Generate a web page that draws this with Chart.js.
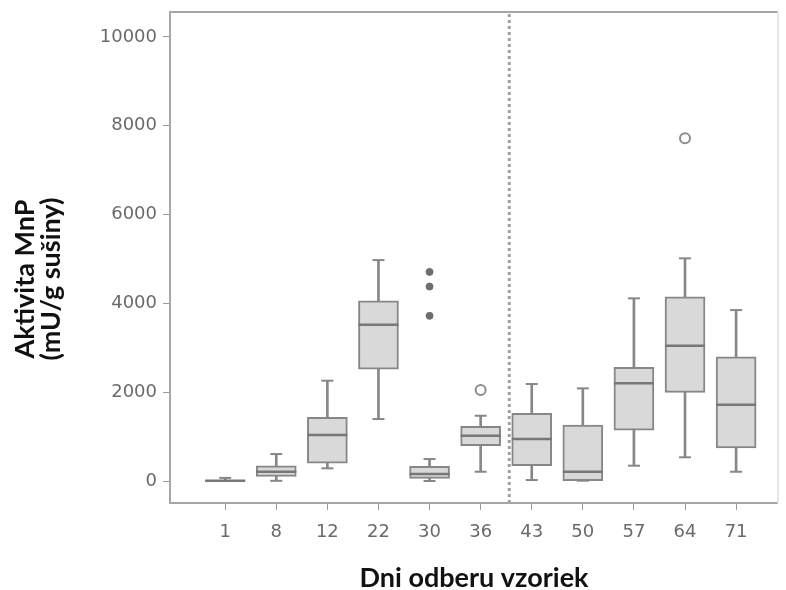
<!DOCTYPE html>
<html>
<head>
<meta charset="utf-8">
<script src="https://cdn.jsdelivr.net/npm/chart.js@4.4.1/dist/chart.umd.min.js"></script>
<style>
  html, body { margin: 0; padding: 0; background: #fff; }
  #wrap { width: 786px; height: 590px; }
</style>
</head>
<body>
<div id="wrap"><canvas id="boxChart" width="786" height="590"></canvas></div>
<script>
// dni odberu vzoriek
const days = ['1', '8', '12', '22', '30', '36', '43', '50', '57', '64', '71'];

// odčítané hodnoty krabicových grafov (mU/g sušiny)
const whiskerLow  = [0,   5,    286,  1396, 0,   209,  22,   7,    345,  534,  209];
const q1          = [0,   106,  404,  2521, 61,  795,  345,  7,    1148, 1998, 743];
const median      = [5,   209,  1035, 3519, 158, 1020, 945,  209,  2200, 3046, 1718];
const q3          = [15,  344,  1434, 4060, 331, 1231, 1525, 1261, 2560, 4150, 2798];
const whiskerHigh = [70,  607,  2259, 4976, 495, 1470, 2184, 2087, 4114, 5015, 3850];

// odľahlé hodnoty
const filledOutDay = ['30', '30', '30'];
const filledOutVal = [4710, 4380, 3720];
const openOutDay = ['36', '64'];
const openOutVal = [2050, 7720];

// y os
const yTicks = [0, 2000, 4000, 6000, 8000, 10000];
const yMin = -495;
const yMax = 10563;

// prerušovaná deliaca čiara medzi 36. a 43. dňom
const dividerAt = 6.56;

const pos = (d) => days.indexOf(d) + 1;
const pts = (vals) => days.map((d, i) => ({ x: i + 1, y: vals[i] }));

const boxData = days.map((d, i) => ({ x: i + 1, y: [q1[i], q3[i]] }));
const whiskerData = days.map((d, i) => ({ x: i + 1, y: [whiskerLow[i], whiskerHigh[i]] }));

const tickFont = { family: 'DejaVu Sans', size: 18 };

// rámik okolo grafu + názov y osi
const framePlugin = {
  id: 'frame',
  beforeDatasetsDraw(chart) {
    const { ctx, chartArea: a } = chart;
    ctx.save();
    ctx.lineWidth = 2;
    ctx.strokeStyle = '#a6a6a6';
    ctx.beginPath();
    ctx.moveTo(a.right, a.top);
    ctx.lineTo(a.left, a.top);
    ctx.lineTo(a.left, a.bottom);
    ctx.lineTo(a.right, a.bottom);
    ctx.stroke();
    ctx.strokeStyle = '#e6e6e6';
    ctx.beginPath();
    ctx.moveTo(a.right, a.top);
    ctx.lineTo(a.right, a.bottom);
    ctx.stroke();
    ctx.restore();
  },
  afterDraw(chart) {
    const ctx = chart.ctx;
    ctx.save();
    ctx.fillStyle = '#111';
    ctx.font = 'bold 27px Lato';
    ctx.textAlign = 'center';
    ctx.textBaseline = 'middle';
    ctx.translate(25, 279);
    ctx.rotate(-Math.PI / 2);
    ctx.fillText('Aktivita MnP', 0, 0);
    ctx.fillText('(mU/g sušiny)', 0, 26);
    ctx.restore();
  }
};

window.addEventListener('load', function() {
  const ctx = document.getElementById('boxChart').getContext('2d');
  new Chart(ctx, {
    data: {
      datasets: [
        {
          type: 'bar',
          data: boxData,
          grouped: false,
          barThickness: 40,
          backgroundColor: '#d9d9d9',
          borderColor: '#878787',
          borderWidth: 2,
          borderSkipped: false,
          order: 3
        },
        {
          type: 'bar',
          data: whiskerData,
          grouped: false,
          barThickness: 2,
          backgroundColor: '#878787',
          borderWidth: 0,
          order: 5
        },
        {
          type: 'line',
          data: pts(whiskerHigh).concat(pts(whiskerLow)),
          showLine: false,
          pointStyle: 'line',
          pointRadius: 6,
          pointBorderWidth: 2,
          pointBorderColor: '#878787',
          order: 4
        },
        {
          type: 'line',
          data: pts(median),
          showLine: false,
          pointStyle: 'line',
          pointRadius: 20,
          pointBorderWidth: 2.5,
          pointBorderColor: '#777777',
          order: 1
        },
        {
          type: 'line',
          data: filledOutDay.map((d, i) => ({ x: pos(d), y: filledOutVal[i] })),
          showLine: false,
          pointStyle: 'circle',
          pointRadius: 3.5,
          pointBackgroundColor: '#6e6e6e',
          pointBorderColor: '#6e6e6e',
          pointBorderWidth: 1,
          order: 1
        },
        {
          type: 'line',
          data: openOutDay.map((d, i) => ({ x: pos(d), y: openOutVal[i] })),
          showLine: false,
          pointStyle: 'circle',
          pointRadius: 5,
          pointBackgroundColor: '#ffffff',
          pointBorderColor: '#8c8c8c',
          pointBorderWidth: 2,
          order: 1
        },
        {
          type: 'line',
          data: [{ x: dividerAt, y: yMin }, { x: dividerAt, y: yMax }],
          borderColor: '#a0a0a0',
          borderWidth: 3,
          borderDash: [3, 3],
          pointRadius: 0,
          order: 6
        }
      ]
    },
    options: {
      responsive: false,
      animation: false,
      layout: { autoPadding: false, padding: { top: 12, right: 8, left: 0, bottom: 0 } },
      plugins: {
        legend: { display: false },
        tooltip: { enabled: false }
      },
      scales: {
        x: {
          type: 'linear',
          offset: false,
          min: -0.08,
          max: 11.82,
          afterBuildTicks: (axis) => { axis.ticks = days.map((d, i) => ({ value: i + 1 })); },
          afterFit: (axis) => { axis.height = 87; axis.paddingLeft = 0; axis.paddingRight = 0; },
          ticks: {
            callback: (v) => days[v - 1],
            font: tickFont,
            color: '#6a6a6a',
            padding: 12,
            maxRotation: 0,
            autoSkip: false
          },
          grid: { offset: false, drawOnChartArea: false, drawTicks: true, tickLength: 7, color: '#9a9a9a' },
          border: { display: false },
          title: {
            display: true,
            text: 'Dni odberu vzoriek',
            font: { family: 'Lato', size: 27, weight: 'bold', lineHeight: 0.85 },
            color: '#111',
            padding: { top: 0, bottom: 0 }
          }
        },
        y: {
          type: 'linear',
          min: yMin,
          max: yMax,
          afterBuildTicks: (axis) => { axis.ticks = yTicks.map((v) => ({ value: v })); },
          afterFit: (axis) => { axis.width = 170; axis.paddingTop = 0; axis.paddingBottom = 0; },
          ticks: {
            callback: (v) => String(v),
            font: tickFont,
            color: '#6a6a6a',
            padding: 6
          },
          grid: { drawOnChartArea: false, drawTicks: true, tickLength: 7, color: '#9a9a9a' },
          border: { display: false }
        }
      }
    },
    plugins: [framePlugin]
  });
});
</script>
</body>
</html>
